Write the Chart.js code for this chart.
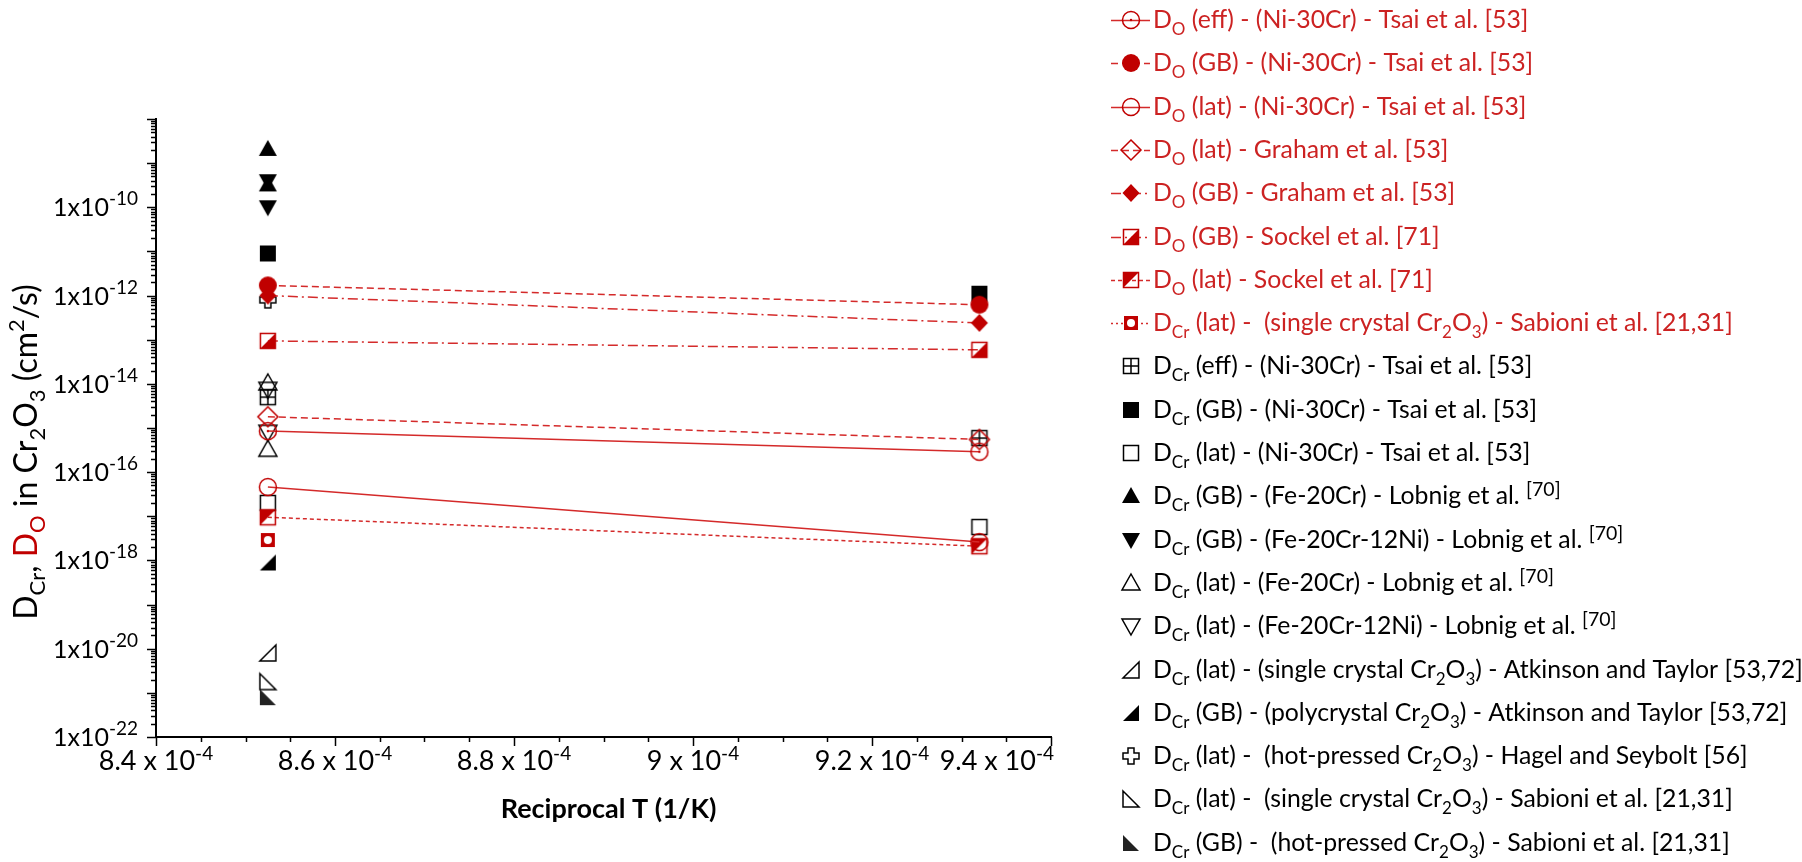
<!DOCTYPE html>
<html lang="en">
<head>
<meta charset="UTF-8">
<title>Diffusion coefficients in Cr2O3</title>
<script src="https://cdn.jsdelivr.net/npm/chart.js"></script>
<style>
  html, body { margin: 0; padding: 0; background: #fff; }
  #wrap { width: 1802px; height: 862px; }
</style>
</head>
<body>
<div id="wrap"><canvas id="diffChart" width="1802" height="862"></canvas></div>
<script>
// reciprocal temperature (1/K): 1173 K and 1073 K
const invT = [8.525e-4, 9.320e-4];
const invT1173 = [8.525e-4];
const invT1173x2 = [8.525e-4, 8.525e-4];

// D_O and red D_Cr series (cm2/s)
const dO_eff_Tsai   = [8.5e-16, 2.9e-16];
const dO_GB_Tsai    = [1.7e-12, 6.2e-13];
const dO_lat_Tsai   = [4.6e-17, 2.6e-18];
const dO_lat_Graham = [1.8e-15, 5.5e-16];
const dO_GB_Graham  = [1.0e-12, 2.4e-13];
const dO_GB_Sockel  = [9.4e-14, 5.9e-14];
const dO_lat_Sockel = [9.5e-18, 2.1e-18];
const dCr_lat_SabioniRed = [2.9e-18];

// D_Cr series (cm2/s)
const dCr_eff_Tsai  = [5.0e-15, 5.9e-16];
const dCr_GB_Tsai   = [9.0e-12, 1.1e-12];
const dCr_lat_Tsai  = [2.0e-17, 5.7e-18];
const dCr_GB_LobnigFeCr    = [2.1e-9, 3.3e-10];
const dCr_GB_LobnigFeCrNi  = [3.9e-10, 1.0e-10];
const dCr_lat_LobnigFeCr   = [1.05e-14, 3.3e-16];
const dCr_lat_LobnigFeCrNi = [7.5e-15, 8.0e-16];
const dCr_lat_Atkinson = [8.0e-21];
const dCr_GB_Atkinson  = [9.0e-19];
const dCr_lat_Hagel    = [8.0e-13];
const dCr_lat_Sabioni  = [1.8e-21];
const dCr_GB_Sabioni   = [8.0e-22];

// axis tick labels
const xTickVals = [8.4e-4, 8.6e-4, 8.8e-4, 9.0e-4, 9.2e-4, 9.4e-4];
const xTickText = ['8.4', '8.6', '8.8', '9', '9.2', '9.4'];
const yLabelExps = [-22, -20, -18, -16, -14, -12, -10];

const RED = '#c00000';
const LINE_RED = '#d42a2a';
const TEXT_RED = '#cc2222';
const FONT = 'Lato';

// ---- marker images ----
function marker(draw) {
  const c = document.createElement('canvas');
  c.width = 26; c.height = 26;
  const g = c.getContext('2d');
  g.translate(13, 13);
  g.lineWidth = 1.5;
  g.lineJoin = 'miter';
  draw(g);
  return c;
}
function poly(g, pts) {
  g.beginPath();
  g.moveTo(pts[0][0], pts[0][1]);
  for (let i = 1; i < pts.length; i++) g.lineTo(pts[i][0], pts[i][1]);
  g.closePath();
}
const mk = {
  circleDot: marker(g => { g.strokeStyle = RED; g.beginPath(); g.arc(0, 0, 8.5, 0, Math.PI * 2); g.stroke();
    g.fillStyle = RED; g.beginPath(); g.arc(0, 0, 1.2, 0, Math.PI * 2); g.fill(); }),
  circleFill: marker(g => { g.fillStyle = RED; g.beginPath(); g.arc(0, 0, 9, 0, Math.PI * 2); g.fill(); }),
  circleOpen: marker(g => { g.strokeStyle = RED; g.beginPath(); g.arc(0, 0, 8.5, 0, Math.PI * 2); g.stroke(); }),
  diamondOpen: marker(g => { g.strokeStyle = RED; poly(g, [[0, -10], [10, 0], [0, 10], [-10, 0]]); g.stroke(); }),
  diamondFill: marker(g => { g.fillStyle = RED; poly(g, [[0, -9], [8.5, 0], [0, 9], [-8.5, 0]]); g.fill(); }),
  sqHalfLR: marker(g => { g.fillStyle = RED; poly(g, [[7.5, -7.5], [7.5, 7.5], [-7.5, 7.5]]); g.fill();
    g.strokeStyle = RED; g.strokeRect(-7.5, -7.5, 15, 15); }),
  sqHalfUL: marker(g => { g.fillStyle = RED; poly(g, [[-7.5, -7.5], [7.5, -7.5], [-7.5, 7.5]]); g.fill();
    g.strokeStyle = RED; g.strokeRect(-7.5, -7.5, 15, 15); }),
  sqRing: marker(g => { g.fillStyle = RED; g.fillRect(-7, -7, 14, 14);
    g.fillStyle = '#fff'; g.beginPath(); g.arc(0, 0, 4, 0, Math.PI * 2); g.fill(); }),
  sqCross: marker(g => { g.strokeStyle = '#000'; g.strokeRect(-7.5, -7.5, 15, 15);
    g.beginPath(); g.moveTo(0, -7.5); g.lineTo(0, 7.5); g.moveTo(-7.5, 0); g.lineTo(7.5, 0); g.stroke(); }),
  sqFill: marker(g => { g.fillStyle = '#000'; g.fillRect(-8, -8, 16, 16); }),
  sqOpen: marker(g => { g.strokeStyle = '#000'; g.strokeRect(-7.5, -7.5, 15, 15); }),
  triUpFill: marker(g => { g.fillStyle = '#000'; poly(g, [[0, -9], [9, 7], [-9, 7]]); g.fill(); }),
  triDnFill: marker(g => { g.fillStyle = '#000'; poly(g, [[0, 9], [9, -7], [-9, -7]]); g.fill(); }),
  triUpOpen: marker(g => { g.strokeStyle = '#000'; poly(g, [[0, -9], [9, 7], [-9, 7]]); g.stroke(); }),
  triDnOpen: marker(g => { g.strokeStyle = '#000'; poly(g, [[0, 9], [9, -7], [-9, -7]]); g.stroke(); }),
  rtBROpen: marker(g => { g.strokeStyle = '#000'; poly(g, [[8, -8], [8, 8], [-8, 8]]); g.stroke(); }),
  rtBRFill: marker(g => { g.fillStyle = '#000'; poly(g, [[8, -8], [8, 8], [-8, 8]]); g.fill(); }),
  plusOpen: marker(g => { g.strokeStyle = '#000';
    poly(g, [[-3, -8], [3, -8], [3, -3], [8, -3], [8, 3], [3, 3], [3, 8], [-3, 8], [-3, 3], [-8, 3], [-8, -3], [-3, -3]]); g.stroke(); }),
  rtBLOpen: marker(g => { g.strokeStyle = '#000'; poly(g, [[-8, -8], [8, 8], [-8, 8]]); g.stroke(); }),
  rtBLFill: marker(g => { g.fillStyle = '#222'; poly(g, [[-8, -8], [8, 8], [-8, 8]]); g.fill(); })
};

const DASH = [7, 4], DASHDOT = [10, 4, 2, 4], SHORTDASH = [4, 3], DOT = [2, 3];

function series(label, xs, ys, style, dash, textColor) {
  return {
    label: label,
    data: ys.map((v, i) => ({ x: xs[i], y: v })),
    pointStyle: style,
    pointRadius: 9,
    showLine: dash !== null,
    borderColor: LINE_RED,
    backgroundColor: LINE_RED,
    borderWidth: 1.5,
    borderDash: dash || [],
    lineDash: dash,
    textColor: textColor
  };
}

const datasets = [
  series('D_{O} (eff) - (Ni-30Cr) - Tsai et al. [53]', invT, dO_eff_Tsai, mk.circleDot, [], TEXT_RED),
  series('D_{O} (GB) - (Ni-30Cr) - Tsai et al. [53]', invT, dO_GB_Tsai, mk.circleFill, DASH, TEXT_RED),
  series('D_{O} (lat) - (Ni-30Cr) - Tsai et al. [53]', invT, dO_lat_Tsai, mk.circleOpen, [], TEXT_RED),
  series('D_{O} (lat) - Graham et al. [53]', invT, dO_lat_Graham, mk.diamondOpen, DASH, TEXT_RED),
  series('D_{O} (GB) - Graham et al. [53]', invT, dO_GB_Graham, mk.diamondFill, DASHDOT, TEXT_RED),
  series('D_{O} (GB) - Sockel et al. [71]', invT, dO_GB_Sockel, mk.sqHalfLR, DASHDOT, TEXT_RED),
  series('D_{O} (lat) - Sockel et al. [71]', invT, dO_lat_Sockel, mk.sqHalfUL, SHORTDASH, TEXT_RED),
  series('D_{Cr} (lat) -  (single crystal Cr_{2}O_{3}) - Sabioni et al. [21,31]', invT1173, dCr_lat_SabioniRed, mk.sqRing, DOT, TEXT_RED),
  series('D_{Cr} (eff) - (Ni-30Cr) - Tsai et al. [53]', invT, dCr_eff_Tsai, mk.sqCross, null, '#000'),
  series('D_{Cr} (GB) - (Ni-30Cr) - Tsai et al. [53]', invT, dCr_GB_Tsai, mk.sqFill, null, '#000'),
  series('D_{Cr} (lat) - (Ni-30Cr) - Tsai et al. [53]', invT, dCr_lat_Tsai, mk.sqOpen, null, '#000'),
  series('D_{Cr} (GB) - (Fe-20Cr) - Lobnig et al. ^{[70]}', invT1173x2, dCr_GB_LobnigFeCr, mk.triUpFill, null, '#000'),
  series('D_{Cr} (GB) - (Fe-20Cr-12Ni) - Lobnig et al. ^{[70]}', invT1173x2, dCr_GB_LobnigFeCrNi, mk.triDnFill, null, '#000'),
  series('D_{Cr} (lat) - (Fe-20Cr) - Lobnig et al. ^{[70]}', invT1173x2, dCr_lat_LobnigFeCr, mk.triUpOpen, null, '#000'),
  series('D_{Cr} (lat) - (Fe-20Cr-12Ni) - Lobnig et al. ^{[70]}', invT1173x2, dCr_lat_LobnigFeCrNi, mk.triDnOpen, null, '#000'),
  series('D_{Cr} (lat) - (single crystal Cr_{2}O_{3}) - Atkinson and Taylor [53,72]', invT1173, dCr_lat_Atkinson, mk.rtBROpen, null, '#000'),
  series('D_{Cr} (GB) - (polycrystal Cr_{2}O_{3}) - Atkinson and Taylor [53,72]', invT1173, dCr_GB_Atkinson, mk.rtBRFill, null, '#000'),
  series('D_{Cr} (lat) -  (hot-pressed Cr_{2}O_{3}) - Hagel and Seybolt [56]', invT1173, dCr_lat_Hagel, mk.plusOpen, null, '#000'),
  series('D_{Cr} (lat) -  (single crystal Cr_{2}O_{3}) - Sabioni et al. [21,31]', invT1173, dCr_lat_Sabioni, mk.rtBLOpen, null, '#000'),
  series('D_{Cr} (GB) -  (hot-pressed Cr_{2}O_{3}) - Sabioni et al. [21,31]', invT1173, dCr_GB_Sabioni, mk.rtBLFill, null, '#000')
];

// ---- rich text: _{sub} and ^{sup} ----
function parseRich(str) {
  return str.split(/(_\{[^}]*\}|\^\{[^}]*\})/).filter(s => s.length).map(s => {
    if (s.startsWith('_{')) return { text: s.slice(2, -1), kind: 'sub' };
    if (s.startsWith('^{')) return { text: s.slice(2, -1), kind: 'sup' };
    return { text: s, kind: 'n' };
  });
}
function drawSegs(ctx, segs, x, y, o) {
  const font = sz => (o.weight ? o.weight + ' ' : '') + sz + 'px ' + FONT;
  let total = 0;
  const items = segs.map(sg => {
    const sz = sg.kind === 'n' ? o.size : sg.kind === 'sub' ? o.subSize : o.supSize;
    ctx.font = font(sz);
    const w = ctx.measureText(sg.text).width;
    total += w;
    return Object.assign({}, sg, { sz: sz, w: w });
  });
  let cx = o.align === 'right' ? x - total : o.align === 'center' ? x - total / 2 : x;
  ctx.textAlign = 'left';
  ctx.textBaseline = 'alphabetic';
  items.forEach(it => {
    ctx.font = font(it.sz);
    ctx.fillStyle = it.color || o.color;
    const dy = it.kind === 'sub' ? o.subDrop : it.kind === 'sup' ? -o.supRise : 0;
    ctx.fillText(it.text, cx, y + dy);
    cx += it.w;
  });
  return total;
}

const axisDecor = {
  id: 'axisDecor',
  afterDraw(chart) {
    const { ctx, chartArea: a } = chart;
    const xs = chart.scales.x, ys = chart.scales.y;
    ctx.save();
    ctx.strokeStyle = '#000';
    ctx.lineWidth = 1.5;
    // y ticks, outward
    for (let e = -22; e <= -8; e++) {
      for (let m = 1; m <= 9; m++) {
        const v = m * Math.pow(10, e);
        if (v > ys.max * 1.0001) break;
        const py = Math.round(ys.getPixelForValue(v)) + 0.5;
        const len = m === 1 ? 9 : 5;
        ctx.beginPath(); ctx.moveTo(a.left - len, py); ctx.lineTo(a.left, py); ctx.stroke();
      }
    }
    // x ticks, outward
    for (let i = 0; i <= 20; i++) {
      const v = 8.4e-4 + i * 0.05e-4;
      const px = Math.round(xs.getPixelForValue(v)) + 0.5;
      const len = i % 4 === 0 ? 9 : 5;
      ctx.beginPath(); ctx.moveTo(px, a.bottom); ctx.lineTo(px, a.bottom + len); ctx.stroke();
    }
    // y tick labels
    yLabelExps.forEach(ex => {
      const py = ys.getPixelForValue(Math.pow(10, ex));
      drawSegs(ctx, parseRich('1x10^{' + ex + '}'), a.left - 18, py + 9,
        { size: 25, subSize: 19, supSize: 19, supRise: 11, subDrop: 0, color: '#000', align: 'right' });
    });
    // x tick labels (last one kept inside the axis end)
    xTickVals.forEach((v, i) => {
      const px = xs.getPixelForValue(v);
      const last = i === xTickVals.length - 1;
      drawSegs(ctx, parseRich(xTickText[i] + ' x 10^{-4}'), last ? px + 3 : px, a.bottom + 33,
        { size: 27, subSize: 19, supSize: 19, supRise: 10, subDrop: 0, color: '#000', align: last ? 'right' : 'center' });
    });
    // x title
    drawSegs(ctx, parseRich('Reciprocal T (1/K)'), (a.left + a.right) / 2 + 5, 818,
      { size: 27, subSize: 18, supSize: 18, supRise: 8, subDrop: 5, weight: 'bold', color: '#000', align: 'center' });
    // y title (rotated)
    ctx.save();
    ctx.translate(37, 452);
    ctx.rotate(-Math.PI / 2);
    drawSegs(ctx, [
      { text: 'D', kind: 'n' }, { text: 'Cr', kind: 'sub' }, { text: ', ', kind: 'n' },
      { text: 'D', kind: 'n', color: RED }, { text: 'O', kind: 'sub', color: RED },
      { text: ' in Cr', kind: 'n' }, { text: '2', kind: 'sub' }, { text: 'O', kind: 'n' }, { text: '3', kind: 'sub' },
      { text: ' (cm', kind: 'n' }, { text: '2', kind: 'sup' }, { text: '/s)', kind: 'n' }
    ], 0, 0, { size: 32, subSize: 22, supSize: 22, supRise: 13, subDrop: 8, color: '#000', align: 'center' });
    ctx.restore();
    ctx.restore();
  }
};

const LEG_Y0 = 20, LEG_STEP = 43.3, LEG_MARK_X = 1131, LEG_TEXT_X = 1153;
const legendDraw = {
  id: 'legendDraw',
  afterDraw(chart) {
    const ctx = chart.ctx;
    ctx.save();
    chart.data.datasets.forEach((ds, i) => {
      const cy = Math.round(LEG_Y0 + i * LEG_STEP);
      if (ds.lineDash) {
        ctx.strokeStyle = LINE_RED;
        ctx.lineWidth = 1.5;
        ctx.setLineDash(ds.lineDash);
        ctx.beginPath(); ctx.moveTo(LEG_MARK_X - 20, cy + 0.5); ctx.lineTo(LEG_MARK_X + 19, cy + 0.5); ctx.stroke();
        ctx.setLineDash([]);
      }
      ctx.drawImage(ds.pointStyle, LEG_MARK_X - 13, cy - 13);
      drawSegs(ctx, parseRich(ds.label), LEG_TEXT_X, cy + 8,
        { size: 24.8, subSize: 17, supSize: 19.5, supRise: 8, subDrop: 7, color: ds.textColor, align: 'left' });
    });
    ctx.restore();
  }
};

const ctx = document.getElementById('diffChart').getContext('2d');
const diffChart = new Chart(ctx, {
  type: 'scatter',
  data: { datasets: datasets },
  options: {
    responsive: false,
    animation: false,
    devicePixelRatio: 1,
    layout: { padding: { left: 156, top: 119, right: 751, bottom: 125 } },
    plugins: { legend: { display: false }, tooltip: { enabled: false } },
    scales: {
      x: {
        type: 'linear', min: 8.4e-4, max: 9.4e-4,
        grid: { display: false, drawTicks: false },
        border: { display: true, color: '#000', width: 2 },
        ticks: { display: false }
      },
      y: {
        type: 'logarithmic', min: 1e-22, max: 1e-8,
        grid: { display: false, drawTicks: false },
        border: { display: true, color: '#000', width: 2 },
        ticks: { display: false }
      }
    }
  },
  plugins: [axisDecor, legendDraw]
});
</script>
</body>
</html>
